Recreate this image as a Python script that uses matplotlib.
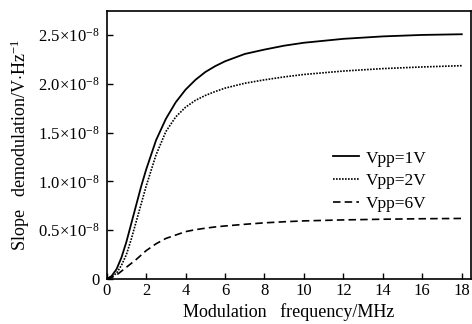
"""Slope demodulation vs modulation frequency"""
import numpy as np
import matplotlib
matplotlib.use('Agg')
import matplotlib.pyplot as plt
from matplotlib.ticker import FixedLocator, FuncFormatter

plt.rcParams['font.family'] = ['Liberation Serif', 'DejaVu Serif']
plt.rcParams['mathtext.fontset'] = 'custom'
plt.rcParams['mathtext.rm'] = 'Liberation Serif'
plt.rcParams['mathtext.it'] = 'Liberation Serif:italic'

# frequency in MHz, slope in units of 1e-8 V/Hz
freq = [0, 0.25, 0.5, 0.75, 1, 1.25, 1.5, 1.75, 2, 2.5, 3, 3.5, 4, 4.5, 5, 5.5, 6, 7, 8, 9, 10, 12, 14, 16, 18]
vpp1 = [0, 0.03, 0.10, 0.22, 0.38, 0.57, 0.76, 0.95, 1.12, 1.42, 1.64, 1.81, 1.94, 2.04, 2.12, 2.18, 2.23, 2.305, 2.35, 2.39, 2.42, 2.46, 2.485, 2.50, 2.507]
vpp2 = [0, 0.02, 0.06, 0.14, 0.25, 0.41, 0.59, 0.77, 0.95, 1.27, 1.51, 1.66, 1.76, 1.83, 1.88, 1.92, 1.955, 2.005, 2.04, 2.07, 2.095, 2.13, 2.155, 2.172, 2.185]
vpp6 = [0, 0.015, 0.04, 0.08, 0.12, 0.16, 0.20, 0.245, 0.29, 0.36, 0.415, 0.45, 0.485, 0.505, 0.52, 0.533, 0.543, 0.56, 0.575, 0.586, 0.595, 0.605, 0.612, 0.617, 0.62]
labels = ['Vpp=1V', 'Vpp=2V', 'Vpp=6V']

fig = plt.figure(figsize=(4.72, 3.24), dpi=100)
ax = fig.add_axes([0.226, 0.139, 0.772, 0.827])

ax.plot(freq, vpp1, color='black', lw=1.3, ls='-', label=labels[0])
ax.plot(freq, vpp2, color='black', lw=1.2, ls=(0, (1, 0.8)), label=labels[1])
ax.plot(freq, vpp6, color='black', lw=1.2, ls=(0, (4.5, 2.5)), label=labels[2])

ax.set_xlim(0, 18.47)
ax.set_ylim(0, 2.745)
ax.set_xticks(np.arange(0, 19, 2))
ax.yaxis.set_major_locator(FixedLocator([0, 0.5, 1.0, 1.5, 2.0, 2.5]))


def ylab(v, pos):
    if v == 0:
        return '0'
    return r'$\mathregular{%.1f\!\times\!10^{-8}}$' % v


ax.yaxis.set_major_formatter(FuncFormatter(ylab))
ax.tick_params(direction='in', length=4, width=1, labelsize=12)
ax.tick_params(axis='x', pad=3)
ax.tick_params(axis='y', pad=5)
for s in ax.spines.values():
    s.set_linewidth(1.2)

ax.set_xlabel('Modulation   frequency/MHz', fontsize=13, labelpad=3)
ax.set_ylabel(r'Slope   demodulation/V$\cdot$Hz$^{\mathregular{-1}}$', fontsize=13, labelpad=4)

ax.legend(loc='upper left', bbox_to_anchor=(0.62, 0.48), frameon=False,
          fontsize=12.5, handlelength=1.5, handletextpad=0.4, labelspacing=0.38,
          borderpad=0, borderaxespad=0)

fig.savefig('out.png', dpi=100)
